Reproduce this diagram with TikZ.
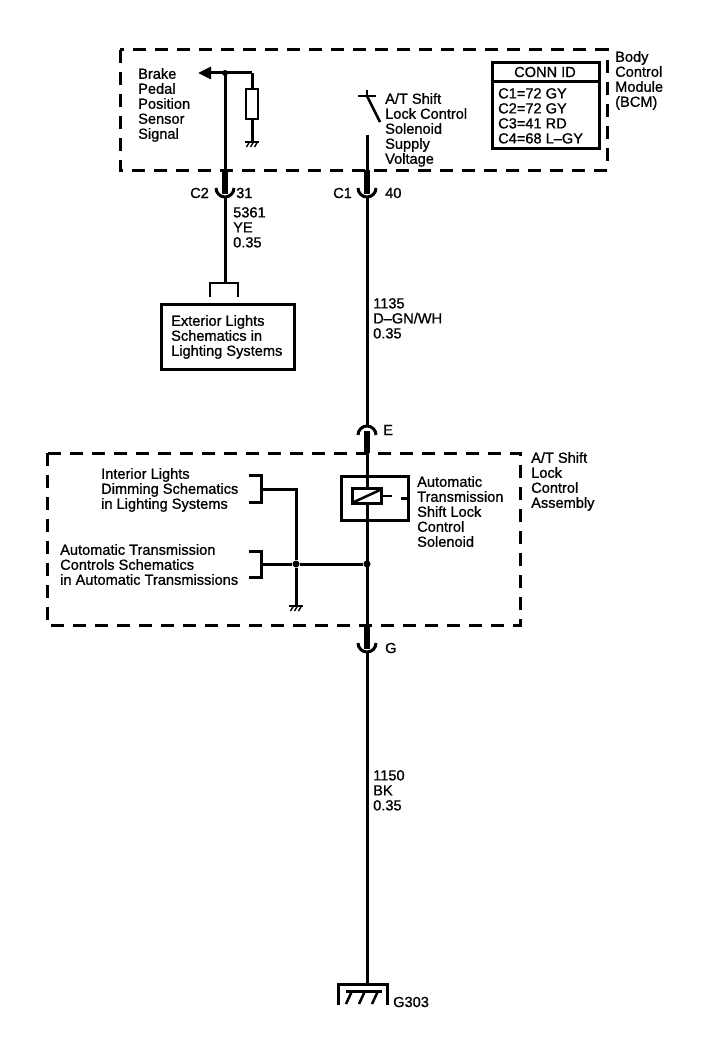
\documentclass[tikz,border=0pt]{standalone}
\usepackage{fontspec}
\setmainfont{Liberation Sans}[FakeBold=1.2]
\newfontfamily\lblfont{Liberation Sans}[FakeBold=0.9]
\usetikzlibrary{arrows.meta,calc}
\begin{document}
\begin{tikzpicture}[x=1pt,y=-1pt,
  wire/.style={line width=3pt},
  pin/.style={line width=6.5pt},
  thinl/.style={line width=2.5pt},
  dbox/.style={line width=3pt, dash pattern=on 13pt off 9pt},
  txt/.style={inner sep=0pt, font=\lblfont\fontsize{14.6}{15}\selectfont, align=left},
  lbl/.style={txt, anchor=north west},
  dot/.style={circle, fill, inner sep=0pt, minimum size=7pt},
  chgnd/.pic={\draw[line width=1.6pt] (-7,0) -- (7,0);
              \foreach \i in {-4,0,4} \draw[line width=1.4pt] (\i+1.5,0) -- (\i-1.5,5);},
  cupdn/.pic={\draw[line width=3pt] (-9,0) arc[start angle=180,end angle=0,radius=9];},
  cupup/.pic={\draw[line width=3pt] (-9,0) arc[start angle=180,end angle=360,radius=9];}
]
\fill[white] (0,0) rectangle (704,1038);
\useasboundingbox (0,0) rectangle (704,1038);

% ---------- BCM ----------
\draw[dbox] (120,50) rectangle (607,170);
\node[lbl] (bcm) at (615,51) {Body\\Control\\Module\\(BCM)};

% CONN ID table
\node[draw, line width=3pt, anchor=north west, minimum width=107pt, minimum height=86pt, inner sep=0pt] (conn) at (491,61) {};
\coordinate (connL) at (491,82);
\coordinate (connR) at (598,82);
\draw[line width=3pt] (connL) -- (connR);
\node[txt] (connhd) at (545,72) {CONN ID};
\node[lbl] (conntx) at (498,88) {C1=72 GY\\C2=72 GY\\C3=41 RD\\C4=68 L–GY};

% Brake pedal position sensor signal
\node[lbl] (brake) at (138,68) {Brake\\Pedal\\Position\\Sensor\\Signal};
\coordinate (arrtip) at (198,73);
\coordinate (j1) at (225,73);
\coordinate (rtop) at (252,73);
\node[draw, line width=2.5pt, minimum width=12pt, minimum height=30pt, inner sep=0pt] (res) at (252,104) {};
\coordinate (g1) at (252,142);
\draw[wire] (rtop) -- (j1);
\draw[wire, -{Triangle[length=13pt,width=12pt]}] (j1) -- (arrtip);
\draw[wire] (rtop) -- (res.north);
\draw[wire] (res.south) -- (g1);
\pic at (g1) {chgnd};
\node[dot, minimum size=6pt] (d1) at (j1) {};

\coordinate (c2box) at (225,170);
\coordinate (c2pin) at (225,194);
\coordinate (c2cup) at (225,188);
\coordinate (c2bot) at (225,196);
\draw[wire] (j1) -- (c2box);
\draw[pin] (c2box) -- (c2pin);
\pic at (c2cup) {cupdn};
\node[txt, anchor=west] (c2l) at (190,193) {C2};
\node[txt, anchor=west] (c2n) at (236,193) {31};
\node[lbl] (w5361) at (233,207) {5361\\YE\\0.35};
\coordinate (extw) at (225,283);
\draw[wire] (c2bot) -- (extw);
\coordinate (bl) at (210,297);
\coordinate (br) at (238,297);
\draw[thinl] (bl) -- (210,283) -- (238,283) -- (br);
\node[draw, line width=2.5pt, anchor=north west, minimum width=133pt, minimum height=65pt, inner sep=0pt] (ext) at (160,303) {};
\node[lbl] (exttx) at (171,315) {Exterior Lights\\Schematics in\\Lighting Systems};

% Switch
\coordinate (swtop) at (367,96);
\coordinate (swend) at (380,122);
\coordinate (sww) at (367,135);
\draw[line width=2.5pt] (358,96) -- (376,96);
\draw[line width=2.5pt] (367,90) -- (swtop);
\draw[line width=2.5pt] (swtop) -- (swend);
\node[lbl] (swtx) at (385,93) {A/T Shift\\Lock Control\\Solenoid\\Supply\\Voltage};

\coordinate (c1box) at (367,170);
\coordinate (c1pin) at (367,194);
\coordinate (c1cup) at (367,188);
\coordinate (c1bot) at (367,196);
\draw[wire] (sww) -- (c1box);
\draw[pin] (c1box) -- (c1pin);
\pic at (c1cup) {cupdn};
\node[txt, anchor=west] (c1l) at (333,193) {C1};
\node[txt, anchor=west] (c1n) at (385,193) {40};
\node[lbl] (w1135) at (373,298) {1135\\D–GN/WH\\0.35};

% Connector E
\coordinate (ecap) at (367,435);
\coordinate (etop) at (367,427);
\coordinate (epin) at (367,431);
\coordinate (ebox) at (367,453);
\draw[wire] (c1bot) -- (etop);
\pic at (ecap) {cupup};
\draw[pin] (epin) -- (ebox);
\node[txt, anchor=west] (el) at (383,430) {E};

% ---------- A/T shift lock control assembly ----------
\draw[dbox] (47,453) rectangle (520,625);
\node[lbl] (asmtx) at (531,452) {A/T Shift\\Lock\\Control\\Assembly};

\node[draw, line width=3pt, anchor=north west, minimum width=67pt, minimum height=44pt, inner sep=0pt] (sol) at (340,475) {};
\node[draw, fill=white, line width=3pt, minimum width=29pt, minimum height=15pt, inner sep=0pt] (coil) at (367,496) {};
\draw[line width=2.5pt] ($(coil.south west)+(3,-3)$) -- ($(coil.north east)+(-3,3)$);
\draw[line width=2.5pt] (coil.east) -- ++(9,0);
\draw[line width=2.5pt] ($(sol.east)+(-9,0)$) -- (sol.east);
\node[lbl] (soltx) at (417,476) {Automatic\\Transmission\\Shift Lock\\Control\\Solenoid};

\node[lbl] (intl) at (101,468) {Interior Lights\\Dimming Schematics\\in Lighting Systems};
\node[lbl] (atc) at (60,544) {Automatic Transmission\\Controls Schematics\\in Automatic Transmissions};

% brackets
\coordinate (b1m) at (261,489);
\coordinate (b2m) at (261,564);
\draw[line width=3pt] (249,475) -- (261,475) -- (261,502) -- (249,502);
\draw[line width=3pt] (249,551) -- (261,551) -- (261,577) -- (249,577);
\coordinate (jg) at (296,489);
\node[dot] (dg) at (296,564) {};
\node[dot] (dm) at (367,564) {};
\coordinate (g2) at (296,606);
\draw[wire] (b1m) -- (jg) -- (dg) -- (g2);
\draw[wire] (b2m) -- (dg) -- (dm);
\pic at (g2) {chgnd};

\coordinate (gbox) at (367,625);
\draw[wire] (ebox) -- (coil.north);
\draw[wire] (coil.south) -- (gbox);

% Connector G
\coordinate (gcup) at (367,643);
\coordinate (gpin) at (367,649);
\coordinate (gbot) at (367,651);
\draw[pin] (gbox) -- (gpin);
\pic at (gcup) {cupdn};
\node[txt, anchor=west] (gl) at (385,648) {G};
\node[lbl] (w1150) at (373,770) {1150\\BK\\0.35};

% Ground G303
\coordinate (gnd) at (367,984);
\draw[wire] (gbot) -- (gnd);
\draw[line width=3pt] (338,1005) -- (338,984) -- (387,984) -- (387,1005);
\draw[line width=3pt] (346,991) -- (382,991);
\foreach \xx in {352,365,378} \draw[line width=2.5pt] (\xx,991) -- (\xx-6,1004);
\node[txt, anchor=west] (g303) at (393,1002) {G303};

\end{tikzpicture}
\end{document}
